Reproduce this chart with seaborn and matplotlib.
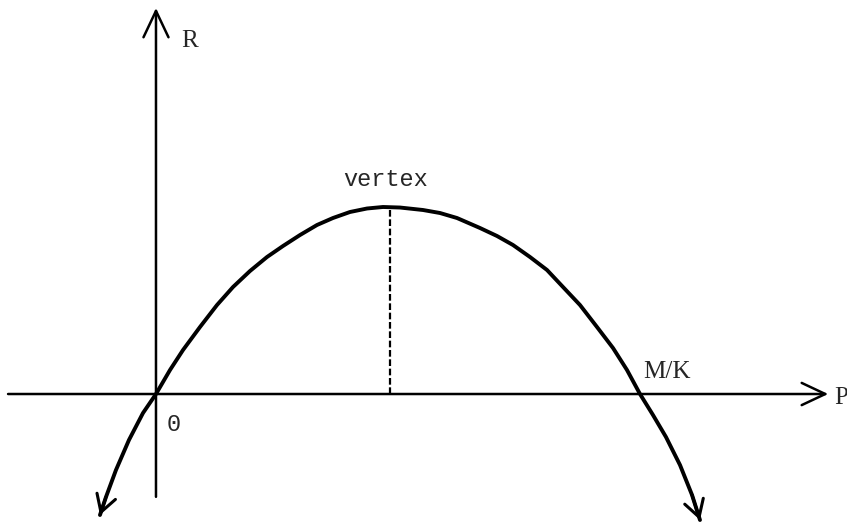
import numpy as np
import matplotlib
matplotlib.use('Agg')
import matplotlib.pyplot as plt
import seaborn as sns

# ------------------------------------------------------------
# data: the curve R(P) (units: M/K = 10)
# ------------------------------------------------------------
p_vals = [-1.155, -1.031, -0.825, -0.557, -0.268, 0.000, 0.289, 0.557,
          0.907, 1.258, 1.588, 1.938, 2.289, 2.619, 2.969, 3.320,
          3.649, 4.000, 4.351, 4.680, 5.031, 5.505, 5.856, 6.206,
          6.680, 7.031, 7.361, 7.711, 8.062, 8.392, 8.742, 9.093,
          9.423, 9.711, 9.979, 10.247, 10.515, 10.804, 11.052, 11.216]
r_vals = [-2.495, -2.124, -1.567, -0.948, -0.392, 0.000, 0.495, 0.907,
          1.381, 1.835, 2.206, 2.536, 2.825, 3.052, 3.278, 3.485,
          3.629, 3.753, 3.825, 3.856, 3.845, 3.794, 3.732, 3.629,
          3.423, 3.258, 3.072, 2.825, 2.557, 2.206, 1.835, 1.381,
          0.948, 0.495, 0.000, -0.433, -0.887, -1.464, -2.082, -2.598]

vertex_p, vertex_r = 4.82, 3.84
root_p = 9.979

# axis extents
p_axis = [-3.05, 13.86]
r_axis = [-2.12, 7.96]

labels = {'x': 'P', 'y': 'R', 'vertex': 'vertex', 'root': 'M/K', 'origin': '0'}

sns.set_style('white')
plt.rcParams['font.family'] = ['Liberation Mono', 'DejaVu Sans Mono']

fig = plt.figure(figsize=(8.47, 5.22), dpi=100)
ax = fig.add_axes([0, 0, 1, 1])
ax.set_xlim(-3.216, 14.247)
ax.set_ylim(-2.639, 8.124)
ax.set_axis_off()

ink = 'black'

# axes with open arrowheads
ax.annotate('', xy=(p_axis[1], 0), xytext=(p_axis[0], 0),
            arrowprops=dict(arrowstyle='->,head_length=0.85,head_width=0.4',
                            lw=1.8, color=ink, mutation_scale=20,
                            shrinkA=0, shrinkB=0))
ax.annotate('', xy=(0, r_axis[1]), xytext=(0, r_axis[0]),
            arrowprops=dict(arrowstyle='->,head_length=0.95,head_width=0.45',
                            lw=1.8, color=ink, mutation_scale=20,
                            shrinkA=0, shrinkB=0))

# the parabola
sns.lineplot(x=p_vals, y=r_vals, sort=False, estimator=None, color=ink,
             lw=2.8, ax=ax, solid_capstyle='round', solid_joinstyle='round')

# arrowheads at both ends of the curve
for i0, i1 in [(1, 0), (-2, -1)]:
    ax.annotate('', xy=(p_vals[i1], r_vals[i1]), xytext=(p_vals[i0], r_vals[i0]),
                arrowprops=dict(arrowstyle='->,head_length=0.6,head_width=0.35',
                                lw=2.2, color=ink, mutation_scale=20,
                                shrinkA=0, shrinkB=0))

# dashed line from vertex down to the P axis
ax.plot([vertex_p, vertex_p], [0, vertex_r], color=ink, lw=1.6,
        linestyle=(0, (3, 1.2)))

# labels
fs = 17
serif = ['Liberation Serif', 'DejaVu Serif']
ax.annotate(labels['vertex'], xy=(vertex_p, vertex_r), xytext=(-3, 12),
            textcoords='offset points', ha='center', va='bottom', fontsize=fs)
ax.annotate(labels['root'], xy=(root_p, 0), xytext=(2, 8),
            textcoords='offset points', ha='left', va='bottom', fontsize=18,
            family=serif)
ax.annotate(labels['origin'], xy=(0, 0), xytext=(8, -14),
            textcoords='offset points', ha='left', va='top', fontsize=fs)
ax.annotate(labels['y'], xy=(0, r_axis[1]), xytext=(18, -24),
            textcoords='offset points', ha='left', va='center', fontsize=18,
            family=serif)
ax.annotate(labels['x'], xy=(p_axis[1], 0), xytext=(4, -3),
            textcoords='offset points', ha='left', va='center', fontsize=18,
            family=serif)

fig.savefig('out.png', dpi=100)
